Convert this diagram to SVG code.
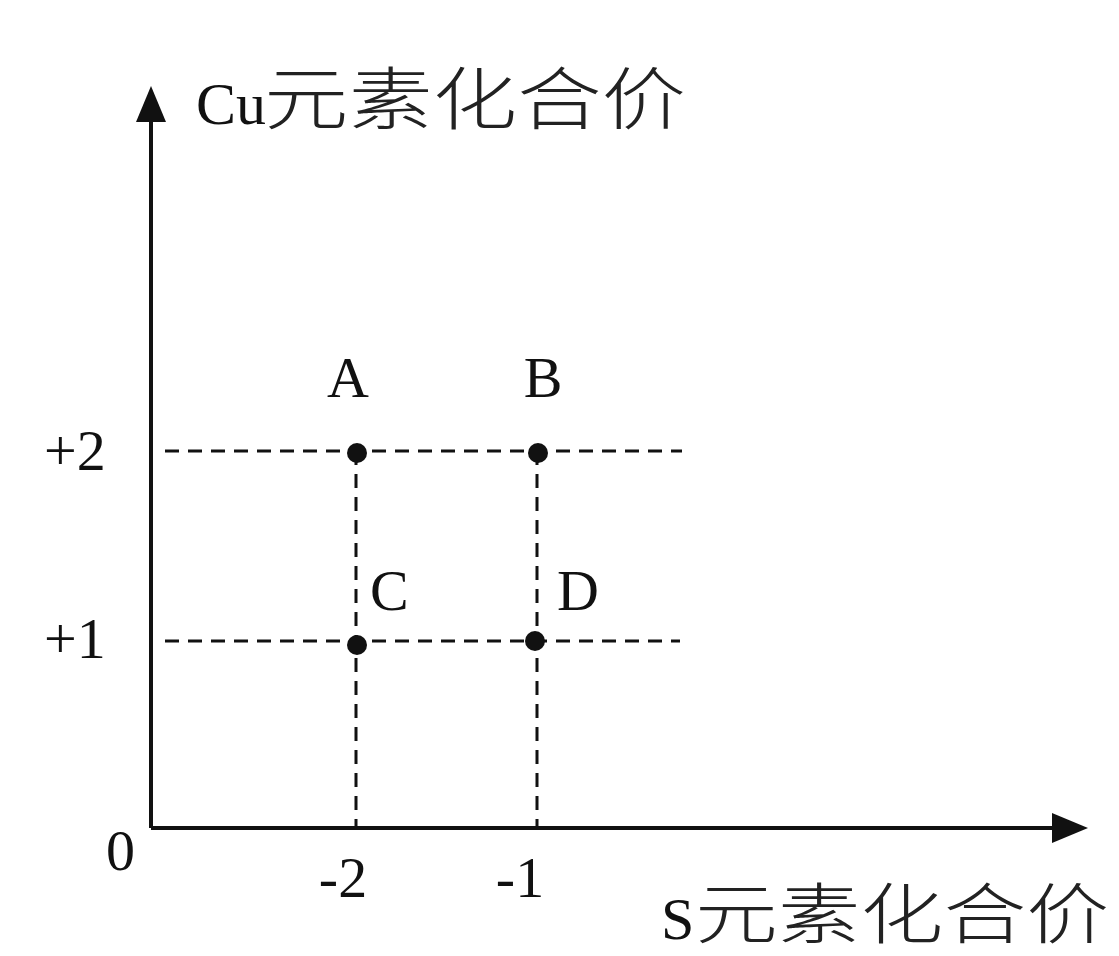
<svg xmlns="http://www.w3.org/2000/svg" width="1119" height="956" viewBox="0 0 1119 956">
<style>
.t{font-family:"Liberation Serif","Times New Roman",serif;fill:#111;}
.c{font-family:"Noto Sans CJK SC","Noto Sans",sans-serif;font-weight:300;fill:#222;}
.ax{stroke:#111;stroke-width:4;fill:none;}
.d{stroke:#111;stroke-width:3;fill:none;stroke-dasharray:14 9;}
</style>
<rect width="1119" height="956" fill="#fff"/>
<g id="connectors">
<line class="d" x1="165" y1="451" x2="682" y2="451"/>
<line class="d" x1="165" y1="641" x2="680" y2="641"/>
<line class="d" x1="356" y1="451" x2="356" y2="826"/>
<line class="d" x1="537" y1="451" x2="537" y2="826"/>
</g>
<g id="axes">
<line class="ax" x1="151" y1="828" x2="151" y2="118"/>
<path d="M151,86 L136,122 L166,122 z" fill="#111"/>
<line class="ax" x1="151" y1="828" x2="1055" y2="828"/>
<path d="M1088,828 L1052,813 L1052,843 z" fill="#111"/>
<text class="t" x="196" y="124" font-size="60">Cu</text>
<text class="c" x="264" y="124" font-size="68" textLength="422" lengthAdjust="spacingAndGlyphs">元素化合价</text>
<text class="t" x="661" y="939" font-size="60">S</text>
<text class="c" x="695" y="938" font-size="66" textLength="414" lengthAdjust="spacingAndGlyphs">元素化合价</text>
<text class="t" x="44" y="470" font-size="58">+2</text>
<text class="t" x="44" y="658" font-size="58">+1</text>
<text class="t" x="106" y="870" font-size="58">0</text>
<text class="t" x="343" y="897" font-size="58" text-anchor="middle">-2</text>
<text class="t" x="520" y="897" font-size="58" text-anchor="middle">-1</text>
</g>
<g id="A"><circle cx="357" cy="453" r="10" fill="#111"/><text class="t" x="348" y="397" font-size="58" text-anchor="middle">A</text></g>
<g id="B"><circle cx="538" cy="453" r="10" fill="#111"/><text class="t" x="543" y="397" font-size="58" text-anchor="middle">B</text></g>
<g id="C"><circle cx="357" cy="645" r="10" fill="#111"/><text class="t" x="370" y="610" font-size="58">C</text></g>
<g id="D"><circle cx="535" cy="641" r="10" fill="#111"/><text class="t" x="557" y="610" font-size="58">D</text></g>
</svg>
